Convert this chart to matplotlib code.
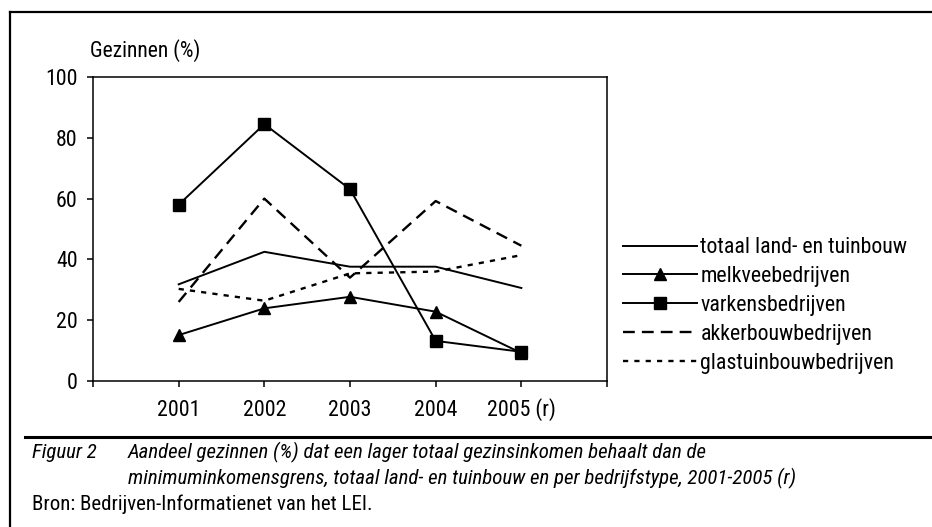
import matplotlib
matplotlib.use('Agg')
import matplotlib.pyplot as plt
from matplotlib.lines import Line2D
from matplotlib import font_manager

# the reference uses a narrow sans; take one if installed
names = {f.name for f in font_manager.fontManager.ttflist}
narrow = [n for n in ['Liberation Sans Narrow', 'Arial Narrow', 'Roboto Condensed',
                      'Open Sans Condensed', 'DejaVu Sans Condensed'] if n in names]
plt.rcParams['font.family'] = narrow + ['Liberation Sans', 'DejaVu Sans']

# data
years = ['2001', '2002', '2003', '2004', '2005 (r)']
totaal = [31.8, 42.5, 37.6, 37.6, 30.6]
melkvee = [15.1, 23.9, 27.7, 22.8, 9.2]
varkens = [58.0, 84.5, 63.1, 13.2, 9.6]
akker = [26.0, 60.0, 34.0, 59.2, 44.5]
glas = [30.3, 26.4, 35.4, 36.0, 41.4]
labels = ['totaal land- en tuinbouw', 'melkveebedrijven', 'varkensbedrijven',
          'akkerbouwbedrijven', 'glastuinbouwbedrijven']
cap1 = 'Aandeel gezinnen (%) dat een lager totaal gezinsinkomen behaalt dan de'
cap2 = 'minimuminkomensgrens, totaal land- en tuinbouw en per bedrijfstype, 2001-2005 (r)'

W, H = 932, 527
fig = plt.figure(figsize=(W/100, H/100), dpi=100)
renderer = fig.canvas.get_renderer()

def fx(px):
    return px/W

def fy(py):
    return 1 - py/H

def fit(s, width, size, **kw):
    # font size that gives the text the width it has in the reference
    t = fig.text(0, 0, s, fontsize=size, **kw)
    w = t.get_window_extent(renderer).width
    t.remove()
    return size*width/w

fs_leg = min(16, fit(labels[0], 207, 15.5))
fs_cap = min(15, fit(cap2, 755, 14, style='italic'))
fs_gez = min(16, fit('Gezinnen (%)', 110, 14.5))

ax = fig.add_axes([fx(93), fy(381), fx(607)-fx(93), fy(77)-fy(381)])
x = range(1, len(years)+1)

ax.plot(x, totaal, color='black', lw=1.4, label=labels[0])
ax.plot(x, melkvee, color='black', lw=1.4, marker='^', ms=9, label=labels[1])
ax.plot(x, varkens, color='black', lw=1.4, marker='s', ms=8, label=labels[2])
ax.plot(x, akker, color='black', lw=1.7, dashes=(5, 3), label=labels[3])
ax.plot(x, glas, color='black', lw=1.7, dashes=(2.2, 2.6), label=labels[4])

ax.set_xlim(0, 6)
ax.set_ylim(0, 100)
ax.set_xticks(range(0, 7))
ax.set_xticklabels([''] + years + [''], va='baseline')
ax.set_yticks(range(0, 101, 20))
ax.tick_params(axis='both', direction='out', length=4, width=1.1, labelsize=fs_leg, color='black')
ax.tick_params(axis='x', pad=21)
ax.tick_params(axis='y', pad=7)
for s in ax.spines.values():
    s.set_linewidth(1.1)
    s.set_color('black')

fig.text(fx(90), fy(51), 'Gezinnen (%)', fontsize=fs_gez, va='center', ha='left')

ax.legend(loc='center left', bbox_to_anchor=(fx(623), fy(305.5)), bbox_transform=fig.transFigure,
          frameon=False, fontsize=fs_leg, handlelength=74/(fs_leg*100/72), handletextpad=0.15,
          labelspacing=0.36, borderpad=0, borderaxespad=0)

# frame round the figure and rule above the caption
fig.add_artist(Line2D([fx(10), fx(10)], [fy(12), 0], transform=fig.transFigure, color='black', lw=1.6))
fig.add_artist(Line2D([fx(10), 1], [fy(12), fy(12)], transform=fig.transFigure, color='black', lw=1.6))
fig.add_artist(Line2D([fx(25), 1], [fy(437), fy(437)], transform=fig.transFigure, color='black', lw=2.2))

fig.text(fx(32), fy(452), 'Figuur 2', fontsize=fs_cap, style='italic', va='center')
fig.text(fx(128), fy(452), cap1, fontsize=fs_cap, style='italic', va='center')
fig.text(fx(128), fy(478), cap2, fontsize=fs_cap, style='italic', va='center')
fig.text(fx(32), fy(504), 'Bron: Bedrijven-Informatienet van het LEI.', fontsize=fs_cap, va='center')

fig.savefig('out.png', dpi=100)
